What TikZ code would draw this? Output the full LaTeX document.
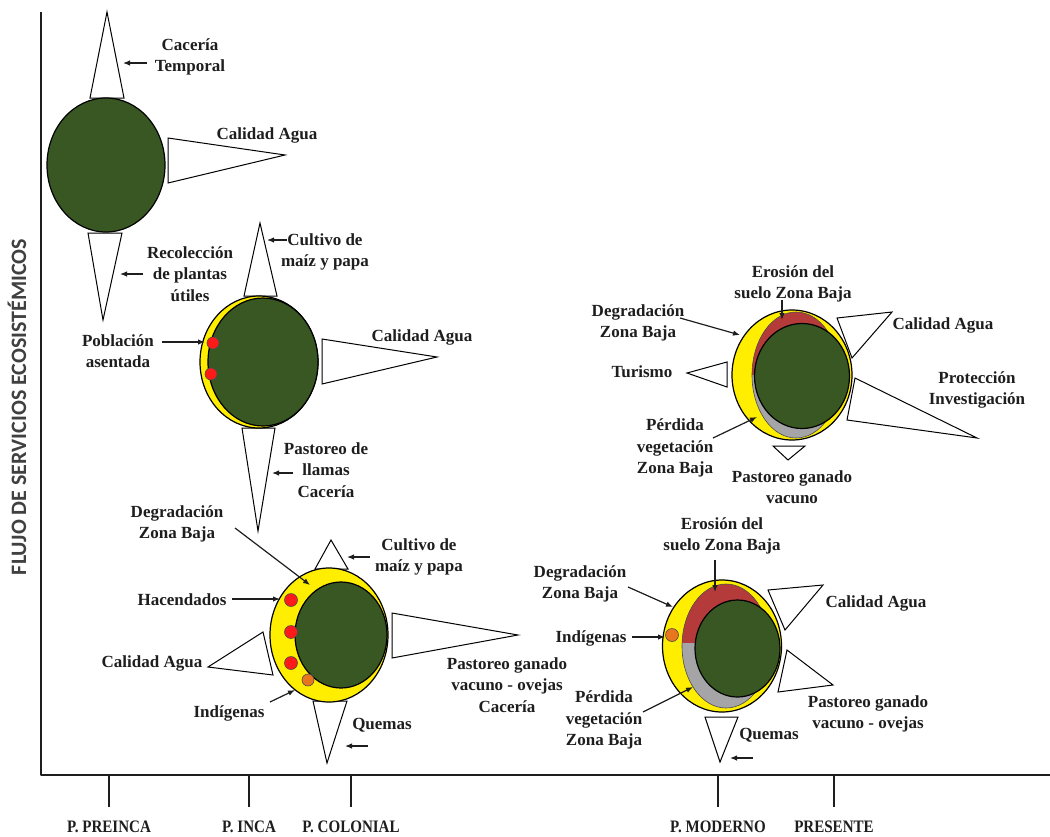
\documentclass[tikz,border=0pt]{standalone}
\usepackage{fontspec}
\setmainfont{Liberation Serif}
\newfontfamily\axisfont{Carlito}
\newfontfamily\tickfont[FakeStretch=0.86]{Liberation Serif}
\usetikzlibrary{arrows.meta,shapes.geometric}

\definecolor{leaf}{HTML}{385723}
\definecolor{sun}{HTML}{FFEE00}
\definecolor{dotred}{HTML}{FF1A1A}
\definecolor{ember}{HTML}{E8761E}
\definecolor{soil}{HTML}{B53B3B}
\definecolor{ash}{HTML}{A5A5A8}
\definecolor{ink}{HTML}{1E1E1E}

\tikzset{
  lab/.style={font=\bfseries\fontsize{17}{21.5}\selectfont, text=ink, align=center, inner sep=0pt},
  ticklab/.style={font=\tickfont\bfseries\fontsize{17.5}{20}\selectfont, text=ink, inner sep=0pt},
  orb/.style={ellipse, draw=black, line width=1.2pt, inner sep=0pt},
  spot/.style={circle, draw=black!70, line width=0.6pt, minimum size=12pt, inner sep=0pt},
  tri/.style={draw=black, fill=white, line width=1pt, line join=miter},
  arr/.style={-{Latex[length=7pt,width=5.5pt]}, line width=1.2pt, draw=ink},
  axisline/.style={line width=2.5pt, draw=ink, line join=round},
  tickline/.style={line width=1.6pt, draw=ink},
  rim/.style={draw=black!70, line width=0.6pt}
}

\begin{document}
\begin{tikzpicture}[x=1pt,y=-1pt]
\useasboundingbox (0,0) rectangle (1050,836);
\fill[white] (0,0) rectangle (1050,836);

% ---------- axes ----------
\coordinate (ytop) at (41,12);
\coordinate (orig) at (41,775);
\coordinate (xend) at (1050,775);
\draw[axisline] (ytop) -- (orig) -- (xend);
\node[font=\axisfont\bfseries\fontsize{22}{24}\selectfont, text=ink!85, rotate=90, inner sep=0pt] (ylab) at (17,407) {FLUJO DE SERVICIOS ECOSISTÉMICOS};

\foreach \nm/\xx/\txt in {t1/109/{P. PREINCA}, t2/249/{P. INCA}, t3/351/{P. COLONIAL}, t4/718/{P. MODERNO}, t5/834/{PRESENTE}} {
  \coordinate (\nm a) at (\xx,775);
  \coordinate (\nm b) at (\xx,807);
  \draw[tickline] (\nm a) -- (\nm b);
  \node[ticklab] (\nm l) at (\xx,827) {\txt};
}

% ---------- Pre-Inca ----------
\draw[tri] (90,98) -- (107,12) -- (124,98) -- cycle;
\draw[tri] (168,138) -- (285,155) -- (168,183) -- cycle;
\draw[tri] (88,233) -- (103,320) -- (122,233) -- cycle;
\node[orb, fill=leaf, minimum width=118pt, minimum height=134pt] (p1) at (106,165) {};

\node[lab] (l1a) at (190,57) {Cacería\\Temporal};
\node[lab] (l1b) at (267,135) {Calidad Agua};
\node[lab] (l1c) at (190,274) {Recolección\\de plantas\\útiles};
\coordinate (a1s) at (147,63);  \coordinate (a1e) at (123,63);
\coordinate (a2s) at (143,274); \coordinate (a2e) at (120,274);
\draw[arr] (a1s) -- (a1e);
\draw[arr] (a2s) -- (a2e);

% ---------- Inca ----------
\draw[tri] (244,296) -- (260,223) -- (277,296) -- cycle;
\draw[tri] (322,339) -- (437,357) -- (322,384) -- cycle;
\draw[tri] (242,428) -- (258,531) -- (275,428) -- cycle;
\node[orb, fill=sun, minimum width=118pt, minimum height=132pt] (p2) at (259,362) {};
\node[orb, fill=leaf, minimum width=110pt, minimum height=128pt] (p2g) at (263,362) {};
\node[spot, fill=dotred] (p2d1) at (213,343) {};
\node[spot, fill=dotred] (p2d2) at (211,374) {};

\node[lab] (l2a) at (325,252) {Cultivo de\\maíz y papa};
\node[lab] (l2b) at (422,337) {Calidad Agua};
\node[lab] (l2c) at (326,470) {Pastoreo de\\llamas\\Cacería};
\node[lab] (l2d) at (118,351) {Población\\asentada};
\coordinate (a3s) at (287,240); \coordinate (a3e) at (267,240);
\coordinate (a4s) at (293,473); \coordinate (a4e) at (272,473);
\coordinate (a5s) at (162,342); \coordinate (a5e) at (205,342);
\draw[arr] (a3s) -- (a3e);
\draw[arr] (a4s) -- (a4e);
\draw[arr] (a5s) -- (a5e);

% ---------- Colonial ----------
\draw[tri] (315,569) -- (331,540) -- (348,569) -- cycle;
\draw[tri] (392,613) -- (518,635) -- (392,658) -- cycle;
\draw[tri] (263,632) -- (208,667) -- (273,675) -- cycle;
\draw[tri] (313,701) -- (327,763) -- (347,701) -- cycle;
\node[orb, fill=sun, minimum width=118pt, minimum height=134pt] (p3) at (329,635) {};
\node[orb, fill=leaf, minimum width=92pt, minimum height=106pt] (p3g) at (341,635) {};
\node[spot, fill=dotred, minimum size=13pt] (p3d1) at (291,600) {};
\node[spot, fill=dotred, minimum size=13pt] (p3d2) at (291,632) {};
\node[spot, fill=dotred, minimum size=13pt] (p3d3) at (291,663) {};
\node[spot, fill=ember] (p3d4) at (308,680) {};

\node[lab] (l3a) at (177,524) {Degradación\\Zona Baja};
\node[lab] (l3b) at (419,557) {Cultivo de\\maíz y papa};
\node[lab] (l3c) at (182,600) {Hacendados};
\node[lab] (l3d) at (152,663) {Calidad Agua};
\node[lab] (l3e) at (507,685) {Pastoreo ganado\\vacuno - ovejas\\Cacería};
\node[lab] (l3f) at (229,713) {Indígenas};
\node[lab] (l3g) at (382,725) {Quemas};
\coordinate (a6s) at (235,528);  \coordinate (a6e) at (310,585);
\coordinate (a7s) at (370,557);  \coordinate (a7e) at (347,557);
\coordinate (a8s) at (232,599);  \coordinate (a8e) at (280,599);
\coordinate (a9s) at (270,702);  \coordinate (a9e) at (295,690);
\coordinate (a10s) at (368,746); \coordinate (a10e) at (345,746);
\draw[arr] (a6s) -- (a6e);
\draw[arr] (a7s) -- (a7e);
\draw[arr] (a8s) -- (a8e);
\draw[arr] (a9s) -- (a9e);
\draw[arr] (a10s) -- (a10e);

% ---------- Moderno (upper) ----------
\draw[tri] (837,318) -- (892,312) -- (852,358) -- cycle;
\draw[tri] (727,362) -- (687,373) -- (727,387) -- cycle;
\draw[tri] (855,378) -- (977,438) -- (847,420) -- cycle;
\draw[tri] (773,446) -- (788,460) -- (805,446) -- cycle;
\node[orb, fill=sun, minimum width=120pt, minimum height=130pt] (p4) at (792,375) {};
\begin{scope}
  \clip (700,290) rectangle (880,375);
  \fill[soil] (796,375) ellipse [x radius=44, y radius=63];
\end{scope}
\begin{scope}
  \clip (700,375) rectangle (880,460);
  \fill[ash] (796,375) ellipse [x radius=44, y radius=63];
\end{scope}
\draw[rim] (796,375) ellipse [x radius=44, y radius=63];
\node[orb, fill=leaf, minimum width=95pt, minimum height=105pt] (p4g) at (802,376) {};

\node[lab] (l4a) at (793,284) {Erosión del\\suelo Zona Baja};
\node[lab] (l4b) at (638,323) {Degradación\\Zona Baja};
\node[lab] (l4c) at (943,325) {Calidad Agua};
\node[lab] (l4d) at (642,372) {Turismo};
\node[lab] (l4e) at (977,390) {Protección\\Investigación};
\node[lab] (l4f) at (675,448) {Pérdida\\vegetación\\Zona Baja};
\node[lab] (l4g) at (792,487) {Pastoreo ganado\\vacuno};
\coordinate (a11s) at (782,300); \coordinate (a11e) at (782,320);
\coordinate (a12s) at (680,318); \coordinate (a12e) at (740,335);
\coordinate (a13s) at (713,438); \coordinate (a13e) at (757,417);
\draw[arr] (a11s) -- (a11e);
\draw[arr] (a12s) -- (a12e);
\draw[arr] (a13s) -- (a13e);

% ---------- Moderno (lower) ----------
\draw[tri] (768,590) -- (823,585) -- (785,630) -- cycle;
\draw[tri] (787,650) -- (833,685) -- (778,692) -- cycle;
\draw[tri] (705,717) -- (720,762) -- (738,717) -- cycle;
\node[orb, fill=sun, minimum width=119pt, minimum height=132pt] (p5) at (722,646) {};
\begin{scope}
  \clip (650,570) rectangle (800,643);
  \fill[soil] (726,646) ellipse [x radius=44, y radius=62];
\end{scope}
\begin{scope}
  \clip (650,643) rectangle (800,720);
  \fill[ash] (726,646) ellipse [x radius=44, y radius=62];
\end{scope}
\draw[rim] (726,646) ellipse [x radius=44, y radius=62];
\node[orb, fill=leaf, minimum width=85pt, minimum height=97pt] (p5g) at (737.5,648.5) {};
\node[spot, fill=ember, minimum size=13pt] (p5d1) at (672,635) {};

\node[lab] (l5a) at (722,536) {Erosión del\\suelo Zona Baja};
\node[lab] (l5b) at (580,584) {Degradación\\Zona Baja};
\node[lab] (l5c) at (591,638) {Indígenas};
\node[lab] (l5d) at (876,603) {Calidad Agua};
\node[lab] (l5e) at (604,720) {Pérdida\\vegetación\\Zona Baja};
\node[lab] (l5f) at (868,714) {Pastoreo ganado\\vacuno - ovejas};
\node[lab] (l5g) at (769,735) {Quemas};
\coordinate (a14s) at (715,560); \coordinate (a14e) at (715,592);
\coordinate (a15s) at (628,587); \coordinate (a15e) at (673,607);
\coordinate (a16s) at (632,637); \coordinate (a16e) at (665,637);
\coordinate (a17s) at (643,712); \coordinate (a17e) at (693,687);
\coordinate (a18s) at (753,758); \coordinate (a18e) at (730,758);
\draw[arr] (a14s) -- (a14e);
\draw[arr] (a15s) -- (a15e);
\draw[arr] (a16s) -- (a16e);
\draw[arr] (a17s) -- (a17e);
\draw[arr] (a18s) -- (a18e);
\end{tikzpicture}
\end{document}
